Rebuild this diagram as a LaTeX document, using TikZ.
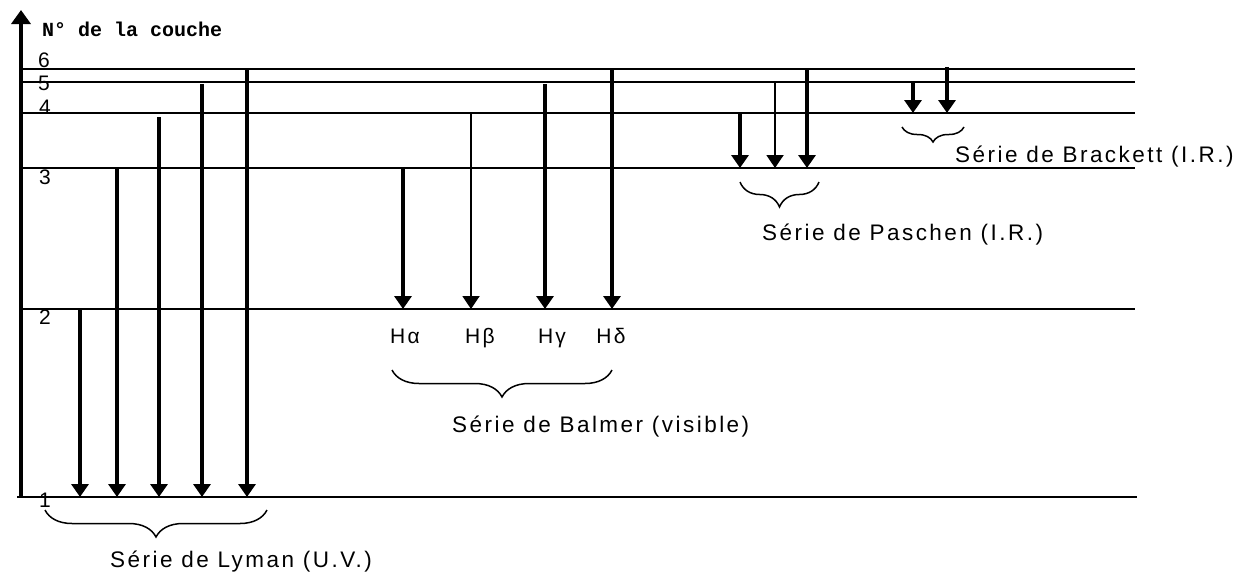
\documentclass[tikz,border=0pt]{standalone}
\usepackage{fontspec}
\setmainfont{Liberation Sans}
\newfontfamily\labfont{Liberation Sans}[LetterSpace=11]
\newfontfamily\axfont{Liberation Mono}
\usetikzlibrary{arrows.meta,decorations.pathreplacing}
\begin{document}
\begin{tikzpicture}[x=1pt,y=-1pt,
  level/.style={line width=1.6pt},
  thickarr/.style={line width=4pt,-{Triangle[width=17pt,length=13pt]}},
  thinarr/.style={line width=2pt,-{Triangle[width=17pt,length=13pt]}},
  series/.style={inner sep=0pt,anchor=base west,font=\labfont\fontsize{22.5pt}{26pt}\selectfont},
  hlab/.style={inner sep=0pt,anchor=base,font=\labfont\fontsize{21pt}{24pt}\selectfont},
  num/.style={inner sep=0pt,font=\fontsize{21pt}{24pt}\selectfont},
  bracebig/.style={line width=1.5pt,decorate,decoration={brace,mirror,amplitude=#1}}]
\useasboundingbox (0,0) rectangle (1244,574);
% axis
\coordinate (ax0) at (21,497);
\coordinate (ax1) at (21,10);
\draw[line width=4pt,-{Triangle[width=19pt,length=14pt]}] (ax0) -- (ax1);
\node[inner sep=0pt,anchor=base west,font=\axfont\bfseries\fontsize{20pt}{22pt}\selectfont] (title) at (42,36) {N° de la couche};
% levels
\draw[level] (17,497) -- (1137,497);
\draw[level] (21,309) -- (1135,309);
\draw[level] (21,168) -- (1135,168);
\draw[level] (21,113) -- (1135,113);
\draw[level] (21,82) -- (1135,82);
\draw[level] (21,69) -- (1135,69);
% level numbers
\node[num] (n6) at (44,60) {6};
\node[num] (n5) at (44,83) {5};
\node[num] (n4) at (45,107) {4};
\node[num] (n3) at (45,177) {3};
\node[num] (n2) at (45,317) {2};
\node[num] (n1) at (45,500) {1};
% Lyman
\draw[thickarr] (80,309) -- (80,497);
\draw[thickarr] (117,168) -- (117,497);
\draw[thickarr] (159,117) -- (159,497);
\draw[thickarr] (202,84) -- (202,497);
\draw[thickarr] (247,69) -- (247,497);
\draw[bracebig=27pt] (45,510) -- (267,510);
\node[series] (lyman) at (110,567) {Série de Lyman (U.V.)};
% Balmer
\draw[thickarr] (403,168) -- (403,309);
\draw[thinarr] (471,113) -- (471,309);
\draw[thickarr] (545,84) -- (545,309);
\draw[thickarr] (612,69) -- (612,309);
\node[hlab] (ha) at (405,343) {Hα};
\node[hlab] (hb) at (480,343) {Hβ};
\node[hlab] (hg) at (552,343) {Hγ};
\node[hlab] (hd) at (611,343) {Hδ};
\draw[bracebig=27pt] (392,370) -- (612,370);
\node[series] (balmer) at (452,432) {Série de Balmer (visible)};
% Paschen
\draw[thickarr] (740,113) -- (740,168);
\draw[thinarr] (775,82) -- (775,168);
\draw[thickarr] (807,69) -- (807,168);
\draw[bracebig=25pt] (740,182) -- (819,182);
\node[series] (paschen) at (762,240) {Série de Paschen (I.R.)};
% Brackett
\draw[thickarr] (913,82) -- (913,113);
\draw[thickarr] (947,67) -- (947,113);
\draw[bracebig=15pt] (902,127) -- (964,127);
\node[series] (brackett) at (955,162) {Série de Brackett (I.R.)};
\end{tikzpicture}
\end{document}
